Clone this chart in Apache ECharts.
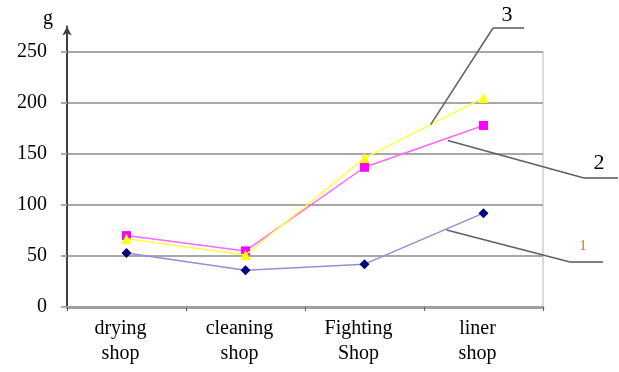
<!DOCTYPE html>
<html><head><meta charset="utf-8">
<script src="https://cdn.jsdelivr.net/npm/echarts@6/dist/echarts.min.js"></script>
<style>html,body{margin:0;padding:0;background:#fff}#c{width:619px;height:372px}</style>
</head><body><div id="c"></div>
<script>
const categories = ['drying\nshop', 'cleaning\nshop', 'Fighting\nShop', 'liner\nshop'];
const series1 = [53, 36, 42, 92];
const series2 = [70, 55, 137, 178];
const series3 = [67, 51, 146, 205];
const yTicks = [0, 50, 100, 150, 200, 250];
const leaderLabels = ['1', '2', '3'];

const FONT = '"Liberation Serif", "Times New Roman", serif';
const chart = echarts.init(document.getElementById('c'), null, {renderer: 'canvas'});

const option = {
  animation: false,
  backgroundColor: '#fff',
  grid: [
    {left: 67, right: 76, top: 26.5, bottom: 65},
    {left: 67, right: 76, top: 52, bottom: 65, show: true, borderColor: '#d0d0d0', borderWidth: 1.5, z: 0}
  ],
  xAxis: [{
    type: 'category', data: categories, gridIndex: 0, boundaryGap: true,
    axisLine: {lineStyle: {color: '#a0a0a0', width: 3}},
    axisTick: {show: true, length: 4, lineStyle: {color: '#606060', width: 1}},
    axisLabel: {fontFamily: FONT, fontSize: 20, color: '#000', lineHeight: 25, margin: 9, padding: [0, 12, 0, 0]},
    splitLine: {show: false}
  }, {
    type: 'category', data: categories, gridIndex: 1, show: false
  }],
  yAxis: [{
    type: 'value', gridIndex: 0, min: 0, max: 275,
    name: 'g', nameLocation: 'end', nameGap: -2,
    nameTextStyle: {fontFamily: FONT, fontSize: 20, color: '#000', padding: [0, 38, 0, 0]},
    axisLine: {show: true, symbol: ['none', 'arrow'], symbolSize: [7, 9], lineStyle: {color: '#404040', width: 2}},
    axisTick: {show: true, length: 6, inside: false, customValues: yTicks, lineStyle: {color: '#a8a8a8', width: 2}},
    axisLabel: {customValues: yTicks, fontFamily: FONT, fontSize: 20, color: '#000', margin: 20},
    splitLine: {show: true, lineStyle: {color: '#a8a8a8', width: 2}}
  }, {
    type: 'value', gridIndex: 1, min: 0, max: 250, show: false
  }],
  series: [{
    type: 'line', data: series1, symbol: 'diamond', symbolSize: 10,
    lineStyle: {color: '#9090d8', width: 1.5},
    itemStyle: {color: '#000080'}, z: 3
  }, {
    type: 'line', data: series2, symbol: 'rect', symbolSize: 9,
    lineStyle: {color: '#ff66ff', width: 1.5},
    itemStyle: {color: '#ff00ff'}, z: 4
  }, {
    type: 'line', data: series3, symbol: 'triangle', symbolSize: 10,
    lineStyle: {color: '#ffff40', width: 1.5},
    itemStyle: {color: '#ffff00'}, z: 5
  }]
};
chart.setOption(option);

// leader annotations: start on a series segment (between Fighting and liner), then out to a label
const leaders = [
  {series: 0, data: series1, t: 0.69, dy: 1, elbow: [570, 262], end: [603, 262], label: [583, 246], size: 15, color: '#c08030'},
  {series: 1, data: series2, t: 0.70, dy: 2.5, elbow: [584, 178], end: [618, 178], label: [599, 163], size: 22, color: '#000'},
  {series: 2, data: series3, t: 0.556, dy: 0, elbow: [493, 28], end: [524, 28], label: [507, 15], size: 22, color: '#000'}
];
const graphics = [];
leaders.forEach((L, i) => {
  const a = chart.convertToPixel({seriesIndex: L.series}, [2, L.data[2]]);
  const b = chart.convertToPixel({seriesIndex: L.series}, [3, L.data[3]]);
  const s = [a[0] + (b[0] - a[0]) * L.t, a[1] + (b[1] - a[1]) * L.t + L.dy];
  graphics.push({type: 'polyline', shape: {points: [s, L.elbow]}, style: {stroke: '#606060', lineWidth: 1.5, fill: null}, z: 10});
  graphics.push({type: 'line', shape: {x1: L.elbow[0], y1: L.elbow[1], x2: L.end[0], y2: L.end[1]}, style: {stroke: '#808080', lineWidth: 2}, z: 10});
  graphics.push({type: 'text', x: L.label[0], y: L.label[1], style: {text: leaderLabels[i], font: L.size + 'px ' + FONT, fill: L.color, textAlign: 'center', textVerticalAlign: 'middle'}, z: 10});
});
chart.setOption({graphic: graphics});
</script>
</body></html>
